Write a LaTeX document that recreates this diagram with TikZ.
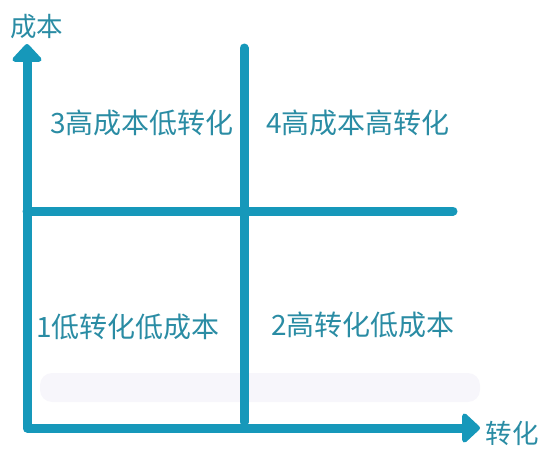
\documentclass[tikz,border=0pt]{standalone}
\usepackage{fontspec}
\setmainfont{Noto Sans CJK SC}
\usetikzlibrary{arrows.meta, positioning}
\definecolor{axiscol}{RGB}{22,152,186}
\definecolor{textcol}{RGB}{42,140,164}
\definecolor{bandcol}{RGB}{247,246,251}

\begin{document}
\begin{tikzpicture}[
    x=1pt, y=-1pt,
    axis/.style={draw=axiscol, line width=9pt, line cap=round, line join=round},
    axtip/.tip={Triangle[round, width=34pt, length=19pt]},
    quad/.style={text=textcol, font=\fontsize{28}{31}\selectfont, inner sep=0pt},
    axlabel/.style={text=textcol, font=\fontsize{26.5}{29}\selectfont, inner sep=0pt},
]
\useasboundingbox (0,0) rectangle (558,463);

% Faint band
\fill[bandcol, rounded corners=12pt] (40,373) rectangle (480,402);

% Coordinates
\coordinate (origin) at (27,428);
\coordinate (ytip) at (27,44);
\coordinate (xtip) at (480,428);
\coordinate (hleft) at (27,211);
\coordinate (hright) at (453,211);
\coordinate (vtop) at (244,48);
\coordinate (vbottom) at (244,422);

% Axes
\draw[axis, axtip-axtip] (ytip) -- (origin) -- (xtip);
\draw[axis] (hleft) -- (hright);
\draw[axis] (vtop) -- (vbottom);

% Axis labels
\node[axlabel] (ylab) at (37,27) {成本};
\node[axlabel] (xlab) at (512,433) {转化};

% Quadrants
\node[quad] (q3) at (142,123) {3高成本低转化};
\node[quad] (q4) at (358,123) {4高成本高转化};
\node[quad] (q1) at (128,327) {1低转化低成本};
\node[quad] (q2) at (363,325) {2高转化低成本};

\end{tikzpicture}
\end{document}
